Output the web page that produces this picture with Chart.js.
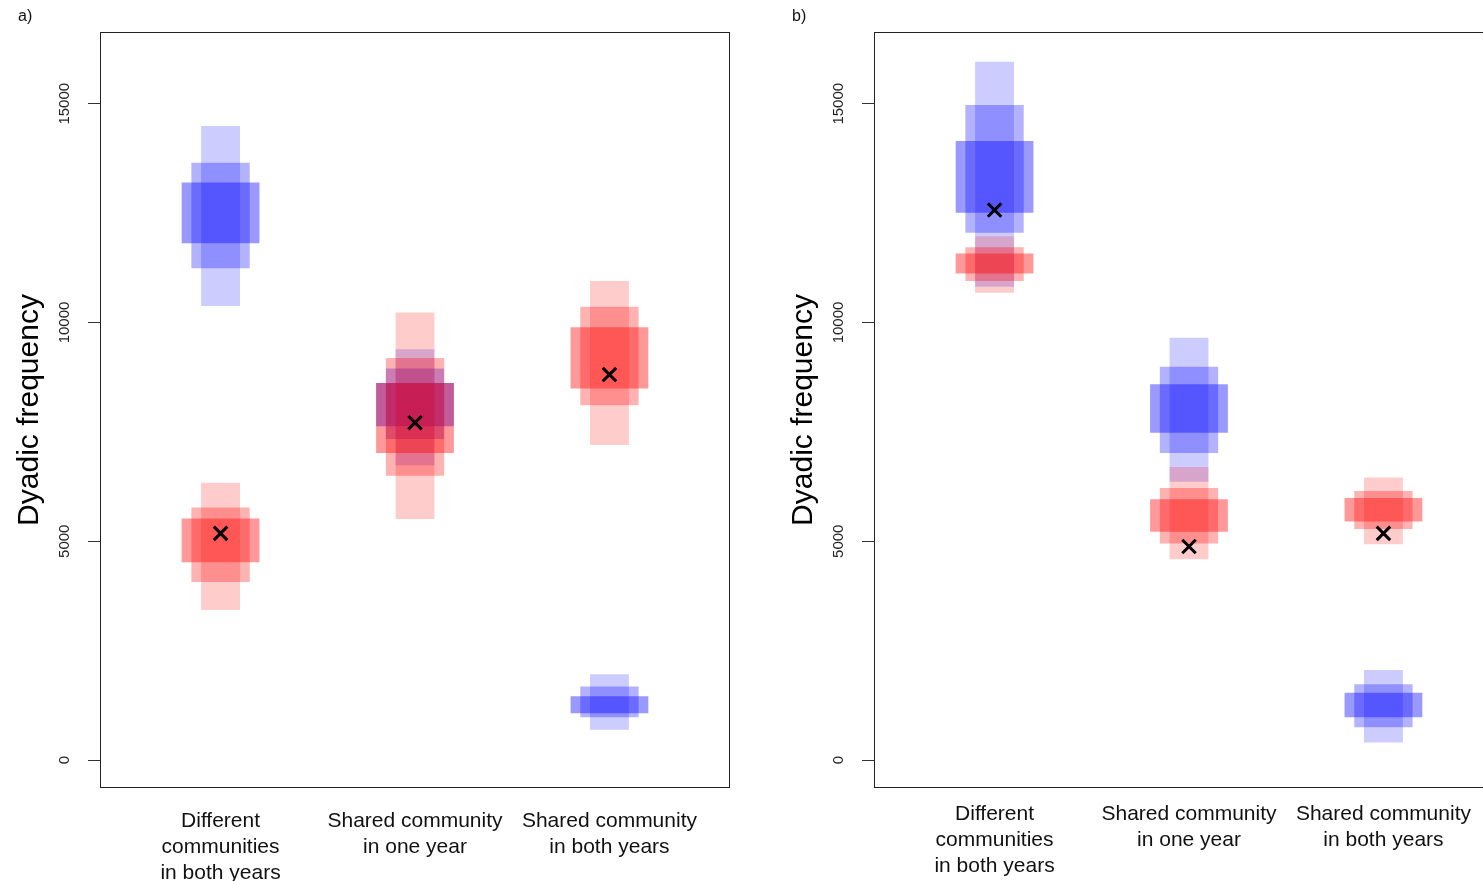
<!DOCTYPE html>
<html>
<head>
<meta charset="utf-8">
<title>Dyadic frequency</title>
<script src="https://cdn.jsdelivr.net/npm/chart.js@4.4.0/dist/chart.umd.min.js"></script>
<style>
  html, body { margin:0; padding:0; background:#fff; overflow:hidden; width:1483px; height:881px; }
  .panel { position:absolute; top:0; }
  #panelA { left:0; }
  #panelB { left:774px; }
</style>
</head>
<body>
<canvas id="panelA" class="panel" width="760" height="881"></canvas>
<canvas id="panelB" class="panel" width="760" height="881"></canvas>
<script>
// ---- DATA ----
const categories = [
  ["Different", "communities", "in both years"],
  ["Shared community", "in one year"],
  ["Shared community", "in both years"]
];
const catPos = [1, 2, 3];
const yTicks = [0, 5000, 10000, 15000];

// panel a) intervals per category, [low, high]
const aBlueOuter = [[10380, 14490], [6740, 9390], [690, 1960]];
const aBlueMid   = [[11240, 13650], [7340, 8950], [980, 1680]];
const aBlueInner = [[11810, 13200], [7630, 8620], [1070, 1460]];
const aRedOuter  = [[3430, 6340], [5510, 10230], [7200, 10950]];
const aRedMid    = [[4070, 5770], [6500, 9190], [8110, 10360]];
const aRedInner  = [[4520, 5520], [7020, 8620], [8490, 9890]];
const aObserved  = [5180, 7710, 8810];

// panel b)
const bBlueOuter = [[10820, 15960], [6360, 9650], [400, 2060]];
const bBlueMid   = [[12050, 14970], [7020, 8990], [750, 1730]];
const bBlueInner = [[12510, 14150], [7480, 8590], [980, 1540]];
const bRedOuter  = [[10680, 11970], [4590, 6700], [4930, 6460]];
const bRedMid    = [[10950, 11720], [4950, 6220], [5280, 6150]];
const bRedInner  = [[11120, 11580], [5220, 5960], [5450, 5990]];
const bObserved  = [12570, 4880, 5180];

// ---- STYLE ----
const FONT = "'Liberation Sans', Arial, sans-serif";
const Y_MIN = -640, Y_MAX = 16640;     // 0..16000 plus 4% each side
const X_MIN = 0.38, X_MAX = 3.62;      // 0.5..3.5 plus 4% each side
const LEVEL_ALPHA = [0.2, 0.3, 0.4];   // outer, mid, inner
const LEVEL_WIDTH = [0.2, 0.3, 0.4];   // fraction of category spacing

// box, rotated y tick labels and panel letter
const panelDecor = {
  id: "panelDecor",
  afterDraw(chart, args, opts) {
    const ctx = chart.ctx, a = chart.chartArea, ys = chart.scales.y;
    ctx.save();
    ctx.strokeStyle = "#222";
    ctx.lineWidth = 1;
    ctx.strokeRect(a.left + 0.5, a.top + 0.5, a.right - a.left - 1, a.bottom - a.top - 1);

    ctx.fillStyle = "#222";
    ctx.font = "15px " + FONT;
    ctx.textAlign = "center";
    ctx.textBaseline = "middle";
    ys.ticks.forEach(t => {
      ctx.save();
      ctx.translate(65, ys.getPixelForValue(t.value));
      ctx.rotate(-Math.PI / 2);
      ctx.fillText(String(t.value), 0, 0);
      ctx.restore();
    });

    ctx.fillStyle = "#111";
    ctx.font = "16px " + FONT;
    ctx.textAlign = "left";
    ctx.fillText(opts.letter, 18, 17);
    ctx.restore();
  }
};

function bandSets(levels, rgb, order) {
  return levels.map((iv, k) => ({
    type: "bar",
    order,
    data: iv.map((r, i) => ({ x: catPos[i], y: r })),
    backgroundColor: `rgba(${rgb},${LEVEL_ALPHA[k]})`,
    borderWidth: 0,
    grouped: false,
    categoryPercentage: 1,
    barPercentage: LEVEL_WIDTH[k]
  }));
}

function makePanel(id, letter, blue, red, observed, labelPad) {
  const datasets = [
    {
      type: "scatter",
      order: 0,
      data: observed.map((v, i) => ({ x: catPos[i], y: v })),
      pointStyle: "crossRot",
      pointRadius: 9.5,
      pointBorderWidth: 3,
      borderColor: "#000",
      backgroundColor: "#000"
    },
    ...bandSets(red, "255,0,0", 1),
    ...bandSets(blue, "0,0,255", 2)
  ];

  return new Chart(document.getElementById(id), {
    type: "bar",
    data: { datasets },
    plugins: [panelDecor],
    options: {
      responsive: false,
      animation: false,
      events: [],
      layout: { padding: { top: 32, right: 30, left: 0, bottom: 0 } },
      plugins: {
        legend: { display: false },
        tooltip: { enabled: false },
        panelDecor: { letter }
      },
      scales: {
        x: {
          type: "linear",
          offset: false,
          min: X_MIN, max: X_MAX,
          afterBuildTicks: s => { s.ticks = catPos.map(v => ({ value: v })); },
          afterFit: s => { s.height = 93; },
          grid: { display: false, offset: false },
          border: { display: false },
          ticks: {
            autoSkip: false,
            maxRotation: 0, minRotation: 0,
            padding: labelPad,
            color: "#111",
            font: { family: FONT, size: 21, lineHeight: 1.24 },
            callback: v => categories[catPos.indexOf(v)]
          }
        },
        y: {
          type: "linear",
          min: Y_MIN, max: Y_MAX,
          afterBuildTicks: s => { s.ticks = yTicks.map(v => ({ value: v })); },
          afterFit: s => { s.width = 100; },
          grid: { display: true, drawOnChartArea: false, drawTicks: true, tickLength: 12, color: "#333", lineWidth: 1 },
          border: { display: false },
          ticks: { display: false },
          title: {
            display: true,
            text: "Dyadic frequency",
            color: "#000",
            padding: { top: 12, bottom: 0 },
            font: { family: FONT, size: 30, lineHeight: 1.2 }
          }
        }
      }
    }
  });
}

makePanel("panelA", "a)", [aBlueOuter, aBlueMid, aBlueInner], [aRedOuter, aRedMid, aRedInner], aObserved, 12);
makePanel("panelB", "b)", [bBlueOuter, bBlueMid, bBlueInner], [bRedOuter, bRedMid, bRedInner], bObserved, 5);
</script>
</body>
</html>
